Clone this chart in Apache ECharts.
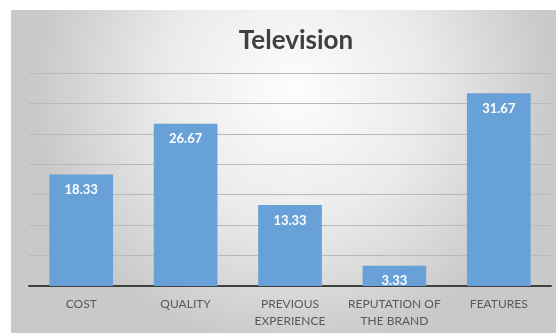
<!DOCTYPE html>
<html>
<head>
<meta charset="utf-8">
<script src="https://cdn.jsdelivr.net/npm/echarts@6/dist/echarts.min.js"></script>
<style>
  html, body { margin: 0; padding: 0; background: #ffffff; }
  #chart { width: 556px; height: 333px; }
</style>
</head>
<body>
<div id="chart"></div>
<script>
const titleText = 'Television';
const categories = ['COST', 'QUALITY', 'PREVIOUS\nEXPERIENCE', 'REPUTATION OF\nTHE BRAND', 'FEATURES'];
const values = [18.33, 26.67, 13.33, 3.33, 31.67];
const yMin = 0, yMax = 35, yInterval = 5;

const chart = echarts.init(document.getElementById('chart'), null, { renderer: 'canvas' });
chart.setOption({
  backgroundColor: '#ffffff',
  animation: false,
  graphic: [{
    type: 'rect',
    z: -100,
    silent: true,
    shape: { x: 11, y: 10, width: 545, height: 323 },
    style: {
      fill: new echarts.graphic.RadialGradient(0.52, 0.25, 0.8, [
        { offset: 0, color: '#fdfdfd' },
        { offset: 0.5, color: '#ebebeb' },
        { offset: 1, color: '#c9c9c9' }
      ])
    }
  }],
  title: {
    text: titleText,
    left: 291,
    textAlign: 'center',
    top: 23,
    textStyle: { fontFamily: 'Lato', fontWeight: 'bold', fontSize: 26, color: '#404040' }
  },
  grid: { left: 29, right: 5, top: 73, bottom: 47, containLabel: false },
  xAxis: {
    type: 'category',
    data: categories,
    axisLine: { show: true, lineStyle: { color: '#404040', width: 2 } },
    axisTick: { show: false },
    axisLabel: { color: '#595959', fontFamily: 'Lato', fontSize: 12, lineHeight: 17, margin: 10, interval: 0 }
  },
  yAxis: {
    type: 'value',
    min: yMin, max: yMax, interval: yInterval,
    axisLine: { show: false },
    axisTick: { show: false },
    axisLabel: { show: false },
    splitLine: { lineStyle: { color: '#b9b9b9', width: 1 } }
  },
  series: [{
    type: 'bar',
    data: values,
    barCategoryGap: '39%',
    itemStyle: { color: '#68a1d7' },
    label: {
      show: true,
      position: 'insideTop',
      distance: 9,
      color: '#ffffff',
      fontFamily: 'Lato',
      fontWeight: 'bold',
      fontSize: 13,
      formatter: p => p.value.toFixed(2)
    }
  }]
});
</script>
</body>
</html>
